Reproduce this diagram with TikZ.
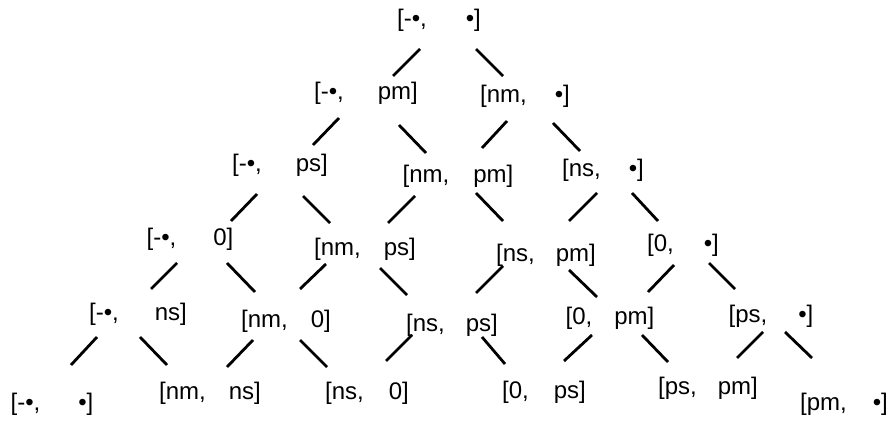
\documentclass[tikz,border=0pt]{standalone}
\usepackage{fontspec}
\setmainfont{Liberation Sans}
\newcommand\pair[3]{[#1,\hspace{#3pt}#2]}
\newcommand\link[6]{\draw[conn] ([shift={(#3,#4)}]#1.center) -- ([shift={(#5,#6)}]#2.center);}
\begin{document}
\begin{tikzpicture}[x=1pt,y=-1pt,
  lab/.style={inner sep=0pt,font=\fontsize{24}{28}\selectfont},
  conn/.style={line width=2.8pt,draw=black}]
\useasboundingbox (0,0) rectangle (893,422);
% nodes
\node[lab] (r0)  at (439,20)  {\pair{-•}{•}{39}};
\node[lab] (r1a) at (366,93)  {\pair{-•}{pm}{34}};
\node[lab] (r1b) at (525,96)  {\pair{nm}{•}{28}};
\node[lab] (r2a) at (280,165) {\pair{-•}{ps}{34}};
\node[lab] (r2b) at (458,176) {\pair{nm}{pm}{24}};
\node[lab] (r2c) at (603,170) {\pair{ns}{•}{28}};
\node[lab] (r3a) at (190,239) {\pair{-•}{0}{37}};
\node[lab] (r3b) at (365,249) {\pair{nm}{ps}{23}};
\node[lab] (r3c) at (546,255) {\pair{ns}{pm}{21}};
\node[lab] (r3d) at (683,245) {\pair{0}{•}{30}};
\node[lab] (r4a) at (138,314) {\pair{-•}{ns}{36}};
\node[lab] (r4b) at (286,321) {\pair{nm}{0}{23}};
\node[lab] (r4c) at (452,325) {\pair{ns}{ps}{21}};
\node[lab] (r4d) at (610,318) {\pair{0}{pm}{22}};
\node[lab] (r4e) at (771,316) {\pair{ps}{•}{31}};
\node[lab] (r5a) at (52,404)  {\pair{-•}{•}{38}};
\node[lab] (r5b) at (210,393) {\pair{nm}{ns}{23}};
\node[lab] (r5c) at (367,393) {\pair{ns}{0}{25}};
\node[lab] (r5d) at (544,392) {\pair{0}{ps}{25}};
\node[lab] (r5e) at (708,388) {\pair{ps}{pm}{21}};
\node[lab] (r5f) at (844,404) {\pair{pm}{•}{26}};
% connectors
\link{r0}{r1a}{-19}{29}{27}{-17}
\link{r0}{r1b}{37}{29}{-22}{-20}
\link{r1a}{r2a}{-27}{25}{33}{-20}
\link{r1a}{r2b}{33}{32}{-32}{-23}
\link{r1b}{r2b}{-18}{25}{24}{-28}
\link{r1b}{r2c}{28}{27}{-23}{-19}
\link{r2a}{r3a}{-23}{29}{41}{-18}
\link{r2a}{r3b}{23}{31}{-35}{-26}
\link{r2b}{r3b}{-43}{20}{23}{-26}
\link{r2b}{r3c}{18}{17}{-43}{-34}
\link{r2c}{r3c}{-6}{23}{23}{-34}
\link{r2c}{r3d}{29}{23}{-25}{-24}
\link{r3a}{r4a}{-13}{24}{13}{-25}
\link{r3a}{r4b}{37}{24}{-31}{-29}
\link{r3b}{r4b}{-39}{15}{14}{-32}
\link{r3b}{r4c}{15}{19}{-45}{-30}
\link{r3c}{r4c}{-43}{11}{24}{-32}
\link{r3c}{r4d}{23}{15}{-13}{-21}
\link{r3d}{r4d}{-9}{20}{38}{-26}
\link{r3d}{r4e}{26}{18}{-36}{-27}
\link{r4a}{r5a}{-41}{23}{19}{-39}
\link{r4a}{r5b}{2}{23}{-43}{-28}
\link{r4b}{r5b}{-33}{19}{17}{-26}
\link{r4b}{r5c}{14}{19}{-40}{-26}
\link{r4c}{r5c}{-40}{10}{19}{-32}
\link{r4c}{r5d}{30}{12}{-39}{-28}
\link{r4d}{r5d}{-18}{17}{20}{-31}
\link{r4d}{r5e}{32}{17}{-40}{-26}
\link{r4e}{r5e}{-8}{16}{29}{-30}
\link{r4e}{r5f}{14}{16}{-32}{-46}
\end{tikzpicture}
\end{document}
